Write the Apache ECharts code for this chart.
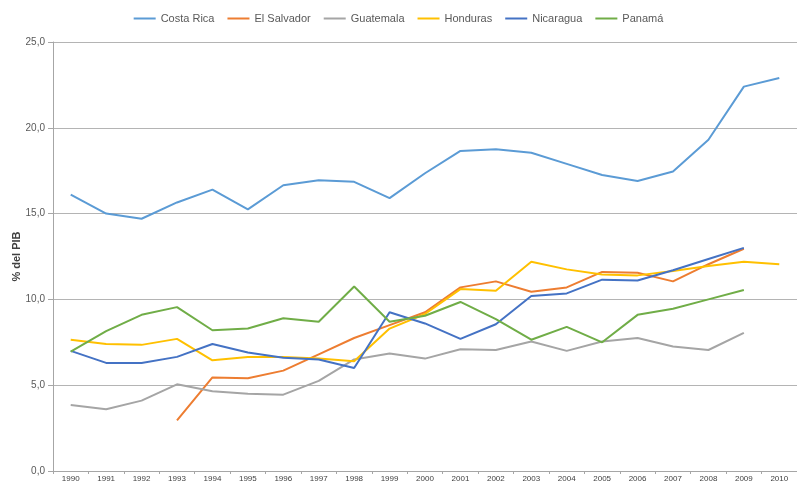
<!DOCTYPE html>
<html>
<head>
<meta charset="utf-8">
<script src="https://cdn.jsdelivr.net/npm/echarts@6/dist/echarts.min.js"></script>
<style>
  html, body { margin: 0; padding: 0; background: #fff; }
  #chart { width: 797px; height: 485px; }
</style>
</head>
<body>
<div id="chart"></div>
<script>
var years = ['1990', '1991', '1992', '1993', '1994', '1995', '1996', '1997', '1998', '1999', '2000',
             '2001', '2002', '2003', '2004', '2005', '2006', '2007', '2008', '2009', '2010'];

var costaRica  = [16.1, 15.0, 14.7, 15.65, 16.4, 15.25, 16.65, 16.95, 16.85, 15.9, 17.35, 18.65, 18.75, 18.55, 17.9, 17.25, 16.9, 17.45, 19.3, 22.4, 22.9];
var elSalvador = [null, null, null, 2.95, 5.45, 5.4, 5.85, 6.8, 7.75, 8.5, 9.25, 10.7, 11.05, 10.45, 10.7, 11.6, 11.55, 11.05, 12.05, 12.95, null];
var guatemala  = [3.85, 3.6, 4.1, 5.05, 4.65, 4.5, 4.45, 5.25, 6.5, 6.85, 6.55, 7.1, 7.05, 7.55, 7.0, 7.55, 7.75, 7.25, 7.05, 8.05, null];
var honduras   = [7.65, 7.4, 7.35, 7.7, 6.45, 6.65, 6.65, 6.55, 6.4, 8.3, 9.15, 10.6, 10.5, 12.2, 11.75, 11.45, 11.4, 11.65, 11.95, 12.2, 12.05];
var nicaragua  = [7.0, 6.3, 6.3, 6.65, 7.4, 6.9, 6.6, 6.5, 6.0, 9.25, 8.6, 7.7, 8.55, 10.2, 10.35, 11.15, 11.1, 11.7, 12.35, 13.0, null];
var panama     = [6.95, 8.15, 9.1, 9.55, 8.2, 8.3, 8.9, 8.7, 10.75, 8.7, 9.05, 9.85, 8.85, 7.65, 8.4, 7.5, 9.1, 9.45, 10.0, 10.55, null];

var seriesNames  = ['Costa Rica', 'El Salvador', 'Guatemala', 'Honduras', 'Nicaragua', 'Panamá'];
var seriesData   = [costaRica, elSalvador, guatemala, honduras, nicaragua, panama];
var seriesColors = ['#5B9BD5', '#ED7D31', '#A5A5A5', '#FFC000', '#4472C4', '#70AD47'];

var chart = echarts.init(document.getElementById('chart'));

var series = [];
for (var i = 0; i < seriesNames.length; i++) {
    series.push({
        name: seriesNames[i],
        type: 'line',
        data: seriesData[i],
        symbol: 'none',
        connectNulls: false,
        lineStyle: { width: 2, color: seriesColors[i] },
        itemStyle: { color: seriesColors[i] }
    });
}

chart.setOption({
    animation: false,
    textStyle: { fontFamily: 'Liberation Sans, Arial, sans-serif' },
    legend: {
        top: 8,
        left: 'center',
        itemWidth: 22,
        itemHeight: 2,
        itemGap: 13,
        icon: 'rect',
        textStyle: { fontSize: 11, color: '#595959' },
        data: seriesNames
    },
    grid: { left: 53, right: 0, top: 42, bottom: 14, outerBoundsMode: 'none' },
    xAxis: {
        type: 'category',
        data: years,
        boundaryGap: true,
        axisLine: { lineStyle: { color: '#a6a6a6', width: 1 } },
        axisTick: { show: true, length: 3, lineStyle: { color: '#a6a6a6' } },
        axisLabel: { fontSize: 8, color: '#404040', margin: 4, interval: 0 }
    },
    yAxis: {
        type: 'value',
        min: 0,
        max: 25,
        interval: 5,
        name: '% del PIB',
        nameLocation: 'middle',
        nameGap: 31,
        nameMoveOverlap: false,
        nameTextStyle: { fontSize: 11, fontWeight: 'bold', color: '#404040' },
        axisLine: { show: true, lineStyle: { color: '#a6a6a6' } },
        axisTick: { show: true, length: 5, lineStyle: { color: '#a6a6a6' } },
        axisLabel: {
            fontSize: 10,
            color: '#595959',
            margin: 8,
            formatter: function (v) { return v.toFixed(1).replace('.', ','); }
        },
        splitLine: { lineStyle: { color: '#b4b4b4', width: 1 } }
    },
    series: series
});
</script>
</body>
</html>
